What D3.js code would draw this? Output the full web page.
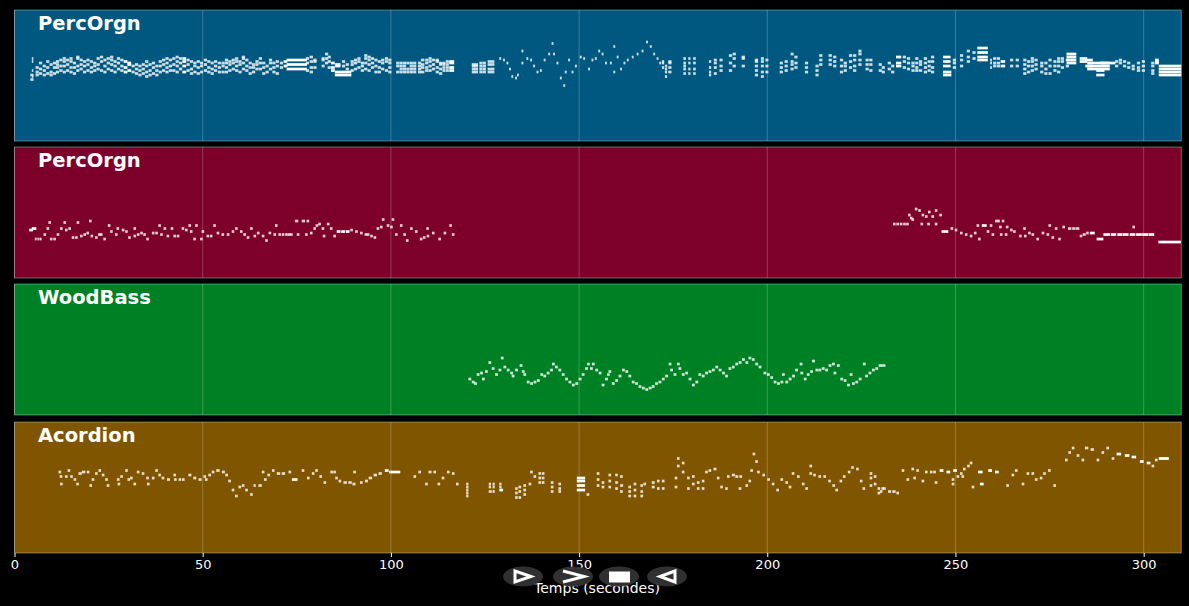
<!DOCTYPE html>
<html>
<head>
<meta charset="utf-8">
<script src="https://cdn.jsdelivr.net/npm/d3@7"></script>
<style>
  html, body { margin: 0; padding: 0; background: #000; overflow: hidden; }
  svg { display: block; }
  text { font-family: "DejaVu Sans", sans-serif; fill: #fff; }
</style>
</head>
<body>
<svg width="1189" height="606"></svg>
<script>
// notes are [start seconds, midi pitch (or chord), duration seconds]
var trackDur = [0.85, 0.7, 0.75, 0.7];

var trackNames = ["PercOrgn", "PercOrgn", "WoodBass", "Acordion"];
var trackColors = ["#005880", "#7d002b", "#008024", "#805500"];
var timeTicks = [0, 50, 100, 150, 200, 250, 300];

var organTop = [
  [4.2,[41,44]],[4.6,[43,47,53,55],.4],[5.6,[44,46,49]],[6.5,[45,48,52]],[7.5,[44,47,50]],[8.4,[45,49,53]],[9.3,[44,46,51]],[10.2,[45,49,52]],
  [11,[46,49,51,53]],[11.9,[47,50,54]],[12.8,[46,50,53,55]],[13.7,[47,51,54]],[14.6,[46,49,53,55]],[15.5,[45,49,52]],[16.4,[47,50,55,56]],[17.3,[48,51,54]],
  [18.2,[46,50,53]],[19.1,[47,51,54]],[20,[46,49,53]],[20.9,[47,50,52]],[21.8,[48,51,55]],[22.7,[47,53,56]],[23.6,[46,50,54]],[24.5,[48,52,55]],
  [25.4,[47,51,54,56]],[26.3,[46,50,53]],[27.2,[48,52,55]],[28.1,[47,50,54]],[29,[46,49,53],1],[30,[47,51,52],1],[31.1,[46,50]],[32,[45,48,51]],
  [32.9,[44,47,50]],[33.8,[45,48,51]],[34.7,[43,46,50,53]],[35.6,[44,47,51]],[36.5,[45,49,52]],[37.4,[44,47,50]],[38.3,[46,50,53]],[39.2,[47,51,54]],
  [40.1,[46,49,52,55]],[41,[47,50,54]],[41.9,[47,51,55]],[42.8,[46,50,53,56]],[43.7,[48,52,55]],[44.6,[46,50,53,55],1],[45.7,[47,51,54]],[46.6,[45,48,53]],
  [47.5,[46,50,52]],[48.4,[45,49,53]],[49.3,[46,50,52],.8],[50.3,[47,51,54]],[51.2,[46,49,53]],[52.1,[45,48,52]],[53,[47,50,53]],[54,[46,49,52]],
  [55,[46,50,52]],[55.9,[46,49,52,54]],[56.8,[47,51,53]],[57.7,[48,52,54]],[58.6,[47,50,53,55]],[59.5,[46,51,53]],[60.4,[48,52,55,56]],[61.3,[47,50,54]],
  [62.2,[45,49,52]],[63.1,[46,49,51]],[64,[48,51,53]],[64.9,[48,52,55]],[65.8,[45,49,52]],[66.7,[46,50]],[67.6,[48,52,54]],[68.5,[46,49,52]],
  [69.4,[45,50,53]],[70.5,[49,52]],[71.5,[50,53],1],[72.3,[54,51,48],5.4],[77.4,[47,52,55]],[78.4,[46,49,53,56],.9],[79.4,[49,54,53]],
  [81.6,[50,54,55],.8],[82.5,[52,55,58]],[83.2,[49,53,56]],[84.1,[47,49,52],1],[85.1,[46,44],4.4],[85.2,[50,51],1.4],[87,[50,53]],[88,[48,51]],
  [89.3,[47,51,53]],[90.2,[48,52,54]],[91.1,[49,53,55]],[92,[47,50,52]],[92.9,[48,52,55,57]],[93.8,[47,51,54,56]],[94.7,[49,52,55]],[95.6,[46,50,54]],
  [96.5,[46,49,53]],[97.4,[48,52,54]],[98.4,[47,53,55]],[99.3,[46,49,52,54]],[101.4,[46,50,52]],[102.3,[46,48,50,52]],[103.2,[46,48,50,52]],[104.1,[46,48,52]],
  [105,[46,48,50,52]],[105.9,[46,48,50,52]],[107.2,[46,48,50,52]],[108,[46,49,51,54],.9],[109.1,[47,49,52,54]],[110,[47,50,53,55]],[110.9,[48,51,54]],[111.9,[46,49,53,54]],
  [112.8,[45,48,51,52]],[113.7,[47,49,51,52],.8],[114.6,[47,49,51,53],.8],[115.5,[47,49,52,53],1.3],
  [121.5,[46,48,50,51]],[122.3,[46,48,50,51]],[123.5,[46,48,50,52]],[124.4,[46,48,50,52]],[125.7,[46,48,51,53],.9],[126.6,[46,48,51,53],.9],
  [128.8,[55],.5],[129.8,[54],.5],[130.7,[52],.5],[131.4,[48],.5],[132,[43],.5],[133,[42],.5],[133.5,[44],.5],[134.7,[60,52],.5],[136,[55],.5],[137,[54],.5],[137.8,[50],.5],[138.7,[46],.5],[139.6,[47],.5],
  [140.6,[54],.5],[141.8,[58],.5],[142.7,[65],.5],[143.1,[58],.5],[144,[52],.5],[144.9,[42],.5],[145.8,[37],.5],[146.2,[46],.5],[147.1,[54],.5],[148,[46],.5],[148.9,[50],.5],
  [150.2,[56],.5],[151.1,[55],.5],[152.4,[48],.5],[153.3,[54],.5],[154.2,[55],.5],[155.1,[60],.5],[156,[58],.5],[156.9,[52],.5],[158.2,[52],.5],[159.1,[63,46],.5],[160,[56],.5],[160.9,[48],.5],
  [161.8,[52],.5],[162.7,[54],.5],[164,[56],.5],[165.3,[58],.5],[166.6,[60],.5],[167.8,[66],.5],[168.8,[63],.5],[169.7,[58],.5],[170.6,[55],.5],[171.3,[52],.5],
  [172,[49,52,53],.6],[172.8,[43,46,48,50],.6],[173.7,[46,49,52,53]],[177.7,[45,48,50,52,55],.7],[179,[45,48,52,55],.6],[180.3,[45,48,52,55],.7],[184.5,[44,46,49,53],.6],[185.8,[45,49,52,54],.8],
  [187.3,[47,50,54]],[189.8,[47,52,57]],[190.8,[50,55,58]],[193.2,[50,55,56]],[196.7,[44,47,50,53,54]],[198.3,[43,46,50,53,55],.8],[199.5,[46,50,54],.8],
  [203.3,[46,49,52]],[204.6,[47,50,53]],[206.2,[48,51,53,58],.8],[207.2,[49,52,56]],[210,[46,49,52]],[212.8,[44,47,50]],[213.8,[51,54,57]],
  [216.3,[51,54,57]],[217.5,[50,53,56]],[219.3,[46,50,54]],[220.3,[47,50,52]],[221.7,[49,53,57]],[222.8,[47,50,54,57]],[224.2,[51,54,58,60]],[226.1,[48,51,54]],
  [227.1,[47,51,54]],[229.6,[47,51]],[230.4,[46,49]],[232,[48,52]],[232.9,[46,50]],[234.2,[50,52,56],1.4],[236,[49,53,56]],[237.1,[48,52,55]],[238.3,[47,50,52]],
  [239.3,[47,49,52,55]],[240.3,[47,51,53]],[241.6,[46,49,52,55]],[242.6,[47,50,53]],[243.5,[46,49,53,56]],[246.7,[50,53,56],2],[246.7,[46,44],2.2],
  [249.3,[49,52,54]],[251.2,[50,54,57]],[253,[53,56,60]],[254.5,[55,59]],[255.8,[59,62,56,54],2.8],[259.2,[49,52,54],.5],[260,[50,52,55]],[261,[50,52,55]],
  [262,[50,53],1.2],[264.5,[50,54]],[266,[50,54]],[268,[45,48,51,54]],[269,[46,50,53]],[270,[47,50,53,55]],[271,[48,51,54]],
  [272.5,[46,50,52]],[273.6,[45,48,52]],[274.7,[45,50,54]],[276,[47,50,53]],[277,[46,50,53,55]],[278,[49,53,55]],[279.3,[50,54]],
  [279.5,[52,54,56,58],2.6],[283,[53,55],2],[284.5,[50,54],2],[285,[48,50,52],6],[287.4,[44,47],2.2],[288.5,[52],4],[292.4,[50,53]],[293.4,[52,54]],[294.5,[50,53]],
  [295.6,[49,52]],[296.8,[48,50]],[298.2,[47,49,52]],[299.5,[47,50,53]],[302,[45,47,50,52]],[303,[53,54,52],1],[304,[44,46,50,48],6]
];

var organLow = [
  [3.9,32,1],[4.6,33,1.2],[5.4,26,.5],[6.1,26,.5],[6.7,26,.5],[7.7,29],[8.5,33],[9,37],[9.4,26],[10.3,26],[11.2,29],[12.1,33],[13,37],[13.4,32],[14.3,33],[15.2,27],
  [16.1,27],[16.5,37],[17.4,28],[18.3,29],[19.1,30],[19.8,38],[20.2,28],[21.4,27],[22.2,29],[22.7,29],[23.6,26],[24.8,35],[25.4,31],[26.7,29],[27.1,33],
  [28.5,32],[29.4,31],[30.2,27],[31.6,33],[31.6,28],[32.5,29],[33.4,30],[34.2,29],[35,26],[36.5,30],[37.4,30],[38.2,35],[38.7,29],[39.6,33],[40.4,28],
  [41.5,33],[42.2,28],[43.1,28],[44.4,33],[45.3,32],[46.2,35],[46.6,31],[48,35],[47.5,26],[49.3,26],[49.7,31],[51,28],[51.9,28],[52.8,35],[53.7,30],[55,29],
  [56.4,29],[57.7,31],[58.6,33],[59.9,31],[60.8,29],[61.7,27],[62.6,33],[63.5,28],[64.4,30],[65.7,28],[66.6,25],[67.5,30],[69.2,35],[68.8,29],[70.1,29],[71,29],
  [71.9,29],[72.6,29],[73.2,29],[74.5,38,.9],[76.3,38,.9],[75,29],[77.2,29],[77.6,38],[78.5,30],[79.4,33],[80,35],[80.7,36],[81.6,33],[81.9,28],[83,36],
  [83.8,33],[84.7,28],[85.6,31,1],[86.8,31,1],[88,31,1],[89.2,32],[90.5,31],[91.8,30],[93,29],[93.6,29],[94.5,28],[95.4,27],[96.2,33],[97.1,34],[97.6,39],
  [98.9,35],[99.8,34],[100.2,39],[101.1,29],[102.4,35],[103.3,29],[104,25],[105.1,33],[106.4,31],[107.7,26],[108.5,27],[109.4,33],[109.5,28],[110.9,30],
  [112.6,26],[114,30],[115.5,35],[116.2,29],
  [233.4,36],[234.3,36],[235.2,36],[236.1,36],[236.9,36],[237.9,40],[237.4,42],[238.3,39],[239.2,46],[240.1,45],[241,42],[240.7,36],[241.9,41],[242.7,44],[242.5,36],
  [243.6,41],[244.5,45],[244.5,36],[245.7,42],[246.3,31,1.8],[248.7,33],[249.8,32],[251.2,30],[252.5,29],[253.8,28],[254.9,30],[255.6,35],[256,26],[257,35,1.3],[259.1,35],
  [258.3,31],[259.6,29],[260.5,38],[261.1,38],[261.6,34],[262.3,38],[261.8,29],[263.1,29],[263.4,34],[264.5,32],[265.3,31],[266.9,28],[268,33],[268.2,28],[269.3,30],
  [270.2,29],[271.5,26],[272.9,30],[274.2,29],[274.7,35],[275.5,27],[276.4,33],[277.3,26],[278.4,34],[279.9,33,.9],[281,33,.9],[282,33,.9],[283,28,.7],[283.8,29,.8],
  [284.7,30,.7],[285.7,30,1.3],[287.5,26,1.8],[289.3,29,1.8],[291.3,29,1.4],[293,29,1.4],[294.5,29,1.5],[296.3,29,1.5],[297,34],[298,29,1.5],[299.6,29,1.6],[301.3,29,1.5],
  [303.9,24,6]
];

var bassLine = [
  [120.6,24],[121.5,22],[122.1,21],[122.8,27],[123.7,28],[124.2,24],[125,29],[125.9,35],[126.8,31],[127.7,27],[128.6,30],[129.2,38],[129.9,32],[130.8,30],
  [131.7,28],[132.1,26],[133,30],[134.2,33],[134.8,29],[135.2,27],[136.1,22],[137,21],[137.9,22],[138.8,23],[139.7,27],[140.5,26],[141.4,28],[142.3,30],
  [142.8,34],[143.6,32],[144.5,30],[145.4,27],[146.3,24],[147.2,22],[148.1,20],[149,21],[149.9,24],[150.7,27],[151.6,31],[152.1,34],[152.9,31],[153.4,34],
  [154.3,30],[155.2,28],[156,20],[156.9,24],[157.4,27],[157.8,29],[158.7,21],[159.6,23],[160.5,26],[161.4,30],[162.3,29],[163.1,26],[164,22],[164.9,21],
  [165.8,19],[166.7,18],[167.6,17],[168.5,18],[169.3,19],[170.2,21],[171.1,22],[172,24],[172.9,26],[173.8,34],[174.2,30],[175.1,27],[176,34],[176.4,31],
  [177.3,27],[178.2,28],[179.1,24],[180,20],[180.9,22],[181.7,27],[182.6,26],[183.5,28],[184.4,29],[185.3,30],[186.2,32],[187.1,30],[188,28],[188.8,26],
  [189.7,31],[190.6,32],[191.5,34],[192.4,35],[193.3,37],[194.2,35],[195,38],[195.9,37],[196.8,34],[197.7,32],[199,28],[199.9,27],[200.8,25],[201.7,22],
  [202.6,21],[203.5,22],[203.9,27],[204.8,22],[205.7,24],[206.6,26],[207.4,30],[208.6,34],[208.8,28],[209.7,24],[210.5,27],[211.4,29],[211.9,36],[212.8,30],
  [213.6,30],[214.5,31],[215.4,30],[216.3,33],[217.2,34],[217.6,28],[218.5,33],[219.4,24],[220.3,23],[221.2,20],[221.9,27],[222.5,21],[223.4,22],[224.3,24],
  [225.4,34],[226,26],[226.9,28],[227.8,30],[228.7,31],[229.6,33,.9],[230.5,33,.9]
];

var accordion = [
  [11.7,54],[12,51],[12.1,46],[13.4,51],[14.1,55],[14.8,51],[15.7,49],[16.4,46],[17,53,.9],[17.9,54,.9],[19.2,54,.7],[19.9,45],[20.5,49],[21.4,53],[22.3,55],
  [23.2,52],[24.1,49],[24.5,45],[27.2,49],[27.4,46],[28.1,51],[29.4,55],[30,49],[30.7,50],[31.6,46],[32.5,54],[33.8,53],[35,50],[35.2,46],[36.5,50],[37.4,55],
  [38.2,52],[39.1,50],[40.5,49,.8],[42.2,52],[42.4,49],[43.6,49],[44.5,49],[46.2,52,.8],[47.5,50,.8],[48.9,49,.8],[50.2,51],[50.6,49],[51.5,52],[52.4,54],
  [53.6,55,.9],[55.1,54,.8],[56,52],[56.8,48],[57.7,42],[58.6,38],[59.5,44],[60.4,45],[61.3,42],[62.6,39],[63.5,45,.6],[64.8,45,.9],[65.7,54],[66.3,49],[67.2,52],
  [68.4,55],[69.7,53,.9],[71,53,.9],[72.8,54,.7],[73.7,49,1.5],[76.3,55],[77.7,50],[79,53],[79.9,55],[81,51],[82.1,47],[83.9,54],[84.7,54],[85.2,50],[86.1,48],
  [87.4,47,.9],[88.7,47,.9],[89.8,46,.8],[90,54],[91.8,47],[93.1,48,.8],[94.1,50,.9],[95.4,52,.9],[96.7,53,.9],[98.4,55,1],[99.5,54],[100,54,2.5],[106,51],[107.3,54],[109.1,46],
  [110,54,.8],[111.3,54],[112.4,46],[113.5,50],[114.9,54],[116.2,53],[117.3,46],
  [120,46,.6],[120,44,.6],[120,42,.6],[120,40,.6],[120,38,.6],[126,46,.6],[126,44,.6],[126,41,.8],[127,46,.6],[127,44,.6],[127,41,.6],[128.8,46,.6],[128.8,42,1],[128.8,44,.6],
  [133,43],[133,40],[133,37],[133.9,44],[133.9,41],[133.9,37],[135.2,45],[135.2,42],[135.2,39],[136.6,46],[137,54],[137.9,51],[139.2,53],[139.2,50],[139.2,47],[140.1,53],[140.1,50],[140.1,47],
  [142.5,47,.7],[142.5,44,.7],[142.5,41,.7],[144.5,46],[144.5,43],[144.5,41],[149.4,50,2.2],[149.4,48,2.2],[149.4,45,2.2],[149.4,42,2.2],[152,39],
  [154.7,53],[154.7,49],[154.7,45],[156,47],[156,44],[157.8,52],[157.8,48],[157.8,44],[159.6,52],[159.6,47],[159.6,43],[160.9,51],[160.9,45,.8],[160.9,41],[163.1,44],[163.1,41],[163.1,38],
  [164.5,46],[164.5,42],[164.5,38],[166.3,45],[166.3,41],[166.3,38],[167.1,46],[169.3,47,.8],[169.3,44,.8],[170.7,48],[170.7,43],[172,48],[172,43],
  [175.4,50],[175.4,44],[176,63],[176,58],[177.3,60],[177.3,54],[178.7,50],[178.7,43],[180,51],[180,46],[181.3,47],[181.3,43],[182.6,48],[182.6,43],[183.5,54],[184.4,55],[185.7,56,.8],[186.6,50],[187.5,44],
  [188.8,43],[189.3,51],[190.6,52,.8],[191.5,51,.8],[192.6,51],[192.4,43],[194.2,45],[195,48],[195.5,55],[196.1,66],[196.8,61],[197.3,54],[198.7,52],[200,49],[201.2,46],[202.4,42],
  [203.5,49],[204.8,47],[205.7,44],[206.5,53],[207.9,51],[209.2,46],[210.1,43],[211.2,58],[211.2,53],[212.2,52],[213.6,51],[214.9,51],[216.2,48],[217.3,45],[218.1,42],[219.2,48],[220.1,51],[221.4,54],[222.3,57],[223.6,56],
  [224.6,48],[225.3,43],[227.2,53],[227.2,50],[227.2,45],[228.3,51],[228.3,46],[229.3,43],[229.3,40],[230.3,43],[229.9,41],[230.8,43],[232.1,41,.8],[233.2,41,.9],[234.3,40,.7],
  [235.7,55],[237,49],[238.3,56],[238.8,50],[239.6,55],[241,48],[241.9,54],[243.2,54],[244.5,47],[244.1,54],[245.8,55,1],[247.6,54,1],[249.4,55,1],[249,46],[249,49],[250.3,51],
  [251.2,53],[252,56],[251.6,51],[253.1,58],[253.8,60],[254.3,44],[256.5,46,1],[256,54,1.2],[258.7,55,1],[260.5,54,1],
  [263.5,45],[264.9,52],[265.8,55],[267.6,46],[268.9,53],[270.2,53],[271.1,49],[272.4,50],[273.3,53],[274.6,55],[276,45],
  [279.1,62],[280,67],[280.9,70],[282.2,65],[283.5,62],[284.4,70,.9],[285.9,69,.9],[287.5,62],[288.8,67],[290.1,70],[291.5,63],[292.8,66,1.2],[295,65,1.2],[296.8,64,1.2],[299,61,1],[300.8,60,1],[302.1,58],[303,62],[304,63,2.7]
];

var trackNotes = [organTop, organLow, bassLine, accordion];

var svg = d3.select("svg");
var panelHeight = 131;
var panelTops = [10, 147, 284, 422];

var x = d3.scaleLinear().domain([0, 310]).range([14.5, 1181.3]);
var y = d3.scaleLinear().domain([0, 87.3]).range([panelHeight, 0]);

function expand(rows, dur) {
  return rows.flatMap(function (r) {
    return [].concat(r[1]).map(function (p) {
      return { t: r[0], p: p, d: r[2] === undefined ? dur : r[2] };
    });
  });
}

var panels = svg.selectAll(".panel")
  .data(trackNames)
  .enter()
  .append("g")
    .attr("class", "panel")
    .attr("transform", function (d, i) { return "translate(0," + panelTops[i] + ")"; });

panels.append("rect")
  .attr("x", x(0))
  .attr("y", 0)
  .attr("width", x(310) - x(0))
  .attr("height", panelHeight)
  .attr("fill", function (d, i) { return trackColors[i]; })
  .attr("stroke", "#fff")
  .attr("stroke-opacity", 0.35)
  .attr("stroke-width", 1);

panels.selectAll(".grid")
  .data(timeTicks)
  .enter()
  .append("line")
    .attr("class", "grid")
    .attr("x1", function (d) { return x(d); })
    .attr("x2", function (d) { return x(d); })
    .attr("y1", 0)
    .attr("y2", panelHeight)
    .attr("stroke", "#fff")
    .attr("stroke-opacity", 0.22)
    .attr("stroke-width", 1);

panels.selectAll(".note")
  .data(function (d, i) { return expand(trackNotes[i], trackDur[i]); })
  .enter()
  .append("rect")
    .attr("class", "note")
    .attr("x", function (d) { return x(d.t); })
    .attr("y", function (d) { return y(d.p) - 1.3; })
    .attr("width", function (d) { return x(d.t + d.d) - x(d.t); })
    .attr("height", 2.7)
    .attr("fill", "#fff")
    .attr("fill-opacity", function (d) { return d.d > 0.95 ? 1 : 0.8; });

panels.append("text")
  .attr("x", 38)
  .attr("y", 19.5)
  .attr("font-size", 19.5)
  .attr("font-weight", "bold")
  .text(function (d) { return d; });

var axis = d3.axisBottom(x).tickValues(timeTicks).tickSize(4).tickPadding(3).tickFormat(d3.format("d"));
var axisG = svg.append("g")
  .attr("transform", "translate(0,553)")
  .call(axis);
axisG.select(".domain").remove();
axisG.selectAll("line").attr("stroke", "#fff");
axisG.selectAll("text").attr("font-size", 13).attr("font-family", "DejaVu Sans");

svg.append("text")
  .attr("x", 597)
  .attr("y", 592.5)
  .attr("text-anchor", "middle")
  .attr("font-size", 14)
  .text("Temps (secondes)");

// playback buttons sit over the axis
var buttons = [
  { cx: 523, path: "M515,571L531,576.5L515,582Z", fill: "none", sw: 3 },
  { cx: 573, path: "M563,571L584,576.5L563,582", fill: "none", sw: 3 },
  { cx: 619, path: "M609,571.5H630V582.5H609Z", fill: "#fff", sw: 0 },
  { cx: 667, path: "M675,571L660,576.5L675,582Z", fill: "none", sw: 3 }
];

var btn = svg.selectAll(".btn")
  .data(buttons)
  .enter()
  .append("g")
    .attr("class", "btn");
btn.append("ellipse")
  .attr("cx", function (d) { return d.cx; })
  .attr("cy", 576.5)
  .attr("rx", 20)
  .attr("ry", 10)
  .attr("fill", "#333")
  .attr("fill-opacity", 0.95);
btn.append("path")
  .attr("d", function (d) { return d.path; })
  .attr("fill", function (d) { return d.fill; })
  .attr("stroke", "#fff")
  .attr("stroke-width", function (d) { return d.sw; });
</script>
</body>
</html>
